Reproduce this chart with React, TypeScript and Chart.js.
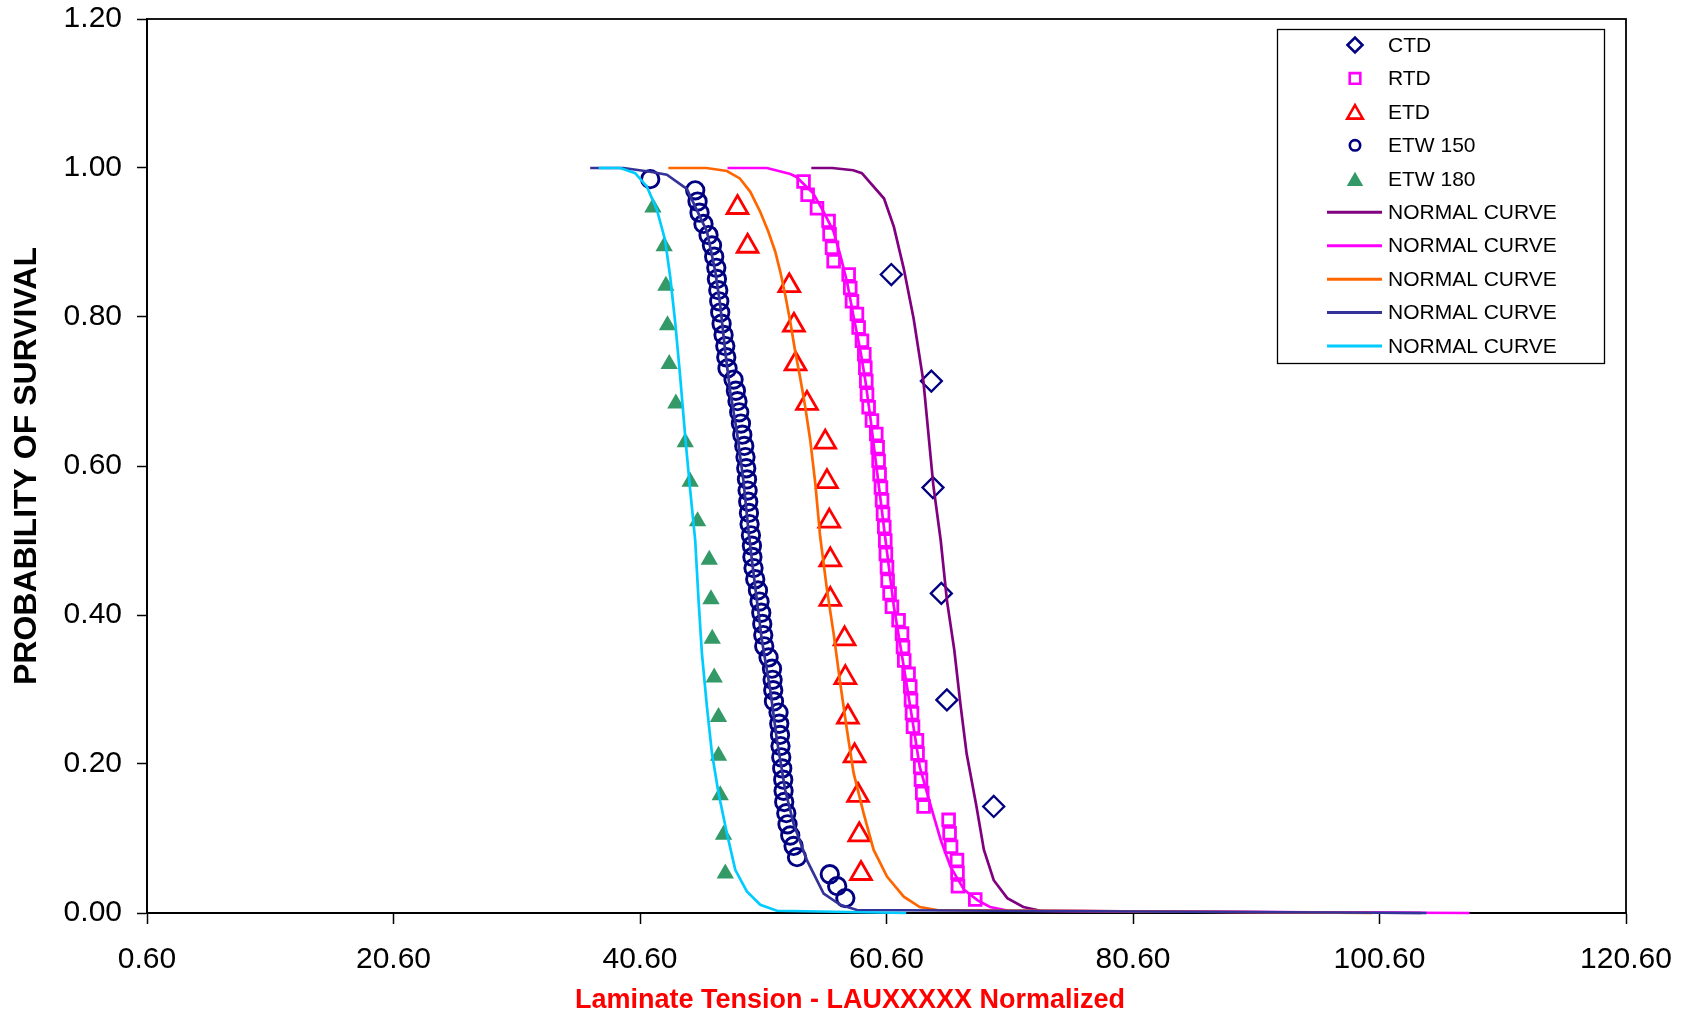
import React, { useEffect, useRef } from 'react';
import { Chart, registerables } from 'chart.js';

Chart.register(...registerables);

const FONT = '"Liberation Sans", Arial, Helvetica, sans-serif';

// ---------- axis ticks ----------
const xTickValues = [0.6, 20.6, 40.6, 60.6, 80.6, 100.6, 120.6];
const yTickValues = [0, 0.2, 0.4, 0.6, 0.8, 1.0, 1.2];

const xTitle = 'Laminate Tension - LAUXXXXX Normalized';
const yTitle = 'PROBABILITY OF SURVIVAL';

// ---------- test data (markers) ----------
const ctdX = [60.99, 64.24, 64.37, 65.05, 65.5, 69.3];
const ctdY = [0.857, 0.714, 0.571, 0.429, 0.286, 0.143];

const rtdX = [53.87, 54.2, 54.96, 55.9, 55.98, 56.18, 56.31, 57.53, 57.66, 57.8, 58.2, 58.34, 58.61, 58.8, 58.88, 58.96, 59.02, 59.15, 59.42, 59.77, 59.88, 59.96, 60.04, 60.15, 60.24, 60.32, 60.42, 60.5, 60.55, 60.64, 60.69, 60.85, 61.04, 61.58, 61.86, 61.94, 62.04, 62.39, 62.53, 62.59, 62.67, 62.75, 63.07, 63.12, 63.34, 63.4, 63.5, 63.61, 65.64, 65.72, 65.84, 66.32, 66.36, 66.4, 67.8];
const rtdY = [0.982, 0.964, 0.946, 0.929, 0.911, 0.893, 0.875, 0.857, 0.839, 0.821, 0.804, 0.786, 0.768, 0.75, 0.732, 0.714, 0.696, 0.679, 0.661, 0.643, 0.625, 0.607, 0.589, 0.571, 0.554, 0.536, 0.518, 0.5, 0.482, 0.464, 0.446, 0.429, 0.411, 0.393, 0.375, 0.357, 0.339, 0.321, 0.304, 0.286, 0.268, 0.25, 0.232, 0.214, 0.196, 0.179, 0.161, 0.143, 0.125, 0.107, 0.089, 0.071, 0.054, 0.036, 0.018];

const etdX = [48.51, 49.33, 52.71, 53.09, 53.22, 54.15, 55.63, 55.77, 55.96, 56.04, 56.04, 57.2, 57.26, 57.47, 58.01, 58.29, 58.39, 58.53];
const etdY = [0.947, 0.895, 0.842, 0.789, 0.737, 0.684, 0.632, 0.579, 0.526, 0.474, 0.421, 0.368, 0.316, 0.263, 0.211, 0.158, 0.105, 0.053];

const etw150X = [41.43, 45.08, 45.27, 45.43, 45.75, 46.16, 46.44, 46.62, 46.79, 46.84, 46.95, 47.03, 47.11, 47.22, 47.38, 47.52, 47.6, 47.7, 48.19, 48.38, 48.51, 48.65, 48.79, 48.9, 49.06, 49.16, 49.22, 49.28, 49.33, 49.38, 49.44, 49.49, 49.6, 49.68, 49.72, 49.81, 49.95, 50.17, 50.3, 50.44, 50.52, 50.6, 50.68, 51.03, 51.31, 51.36, 51.41, 51.47, 51.84, 51.9, 51.96, 52.0, 52.06, 52.14, 52.22, 52.25, 52.3, 52.47, 52.57, 52.79, 53.06, 53.34, 56.0, 56.6, 57.26];
const etw150Y = [0.985, 0.97, 0.955, 0.94, 0.925, 0.91, 0.896, 0.881, 0.866, 0.851, 0.836, 0.821, 0.806, 0.791, 0.776, 0.761, 0.746, 0.731, 0.716, 0.701, 0.687, 0.672, 0.657, 0.642, 0.627, 0.612, 0.597, 0.582, 0.567, 0.552, 0.537, 0.522, 0.507, 0.493, 0.478, 0.463, 0.448, 0.433, 0.418, 0.403, 0.388, 0.373, 0.358, 0.343, 0.328, 0.313, 0.299, 0.284, 0.269, 0.254, 0.239, 0.224, 0.209, 0.194, 0.179, 0.164, 0.149, 0.134, 0.119, 0.104, 0.09, 0.075, 0.052, 0.036, 0.02];

const etw180X = [41.65, 42.56, 42.7, 42.83, 42.97, 43.51, 44.27, 44.67, 45.27, 46.22, 46.36, 46.46, 46.62, 46.97, 46.97, 47.11, 47.38, 47.52];
const etw180Y = [0.947, 0.895, 0.842, 0.789, 0.737, 0.684, 0.632, 0.579, 0.526, 0.474, 0.421, 0.368, 0.316, 0.263, 0.211, 0.158, 0.105, 0.053];

// ---------- normal curves ----------
const ctdCurveX = [54.5, 56.2, 57.9, 58.6, 60.4, 61.2, 62.0, 62.8, 63.6, 64.4, 65.0, 65.5, 66.1, 66.6, 67.1, 67.9, 68.5, 69.3, 70.4, 71.7, 73.1, 104.0];
const ctdCurveY = [1.0, 1.0, 0.997, 0.993, 0.959, 0.921, 0.865, 0.798, 0.713, 0.574, 0.5, 0.42, 0.353, 0.28, 0.214, 0.143, 0.085, 0.044, 0.02, 0.008, 0.003, 0.0];

const rtdCurveX = [47.7, 50.9, 52.8, 53.3, 54.65, 55.5, 56.3, 56.85, 57.4, 57.9, 58.5, 58.9, 59.3, 59.7, 60.1, 60.5, 61.2, 62.0, 62.7, 63.3, 64.2, 65.0, 65.8, 66.9, 68.0, 69.0, 70.5, 107.9];
const rtdCurveY = [1.0, 1.0, 0.992, 0.988, 0.966, 0.941, 0.915, 0.883, 0.847, 0.803, 0.753, 0.713, 0.664, 0.61, 0.557, 0.503, 0.411, 0.331, 0.259, 0.196, 0.143, 0.098, 0.062, 0.031, 0.017, 0.008, 0.003, 0.0];

const etdCurveX = [42.9, 46.0, 47.65, 48.7, 49.55, 50.36, 51.0, 51.57, 51.98, 52.38, 52.79, 53.2, 53.6, 54.0, 54.41, 54.82, 55.22, 55.77, 56.31, 56.85, 57.39, 57.93, 58.74, 59.55, 60.64, 62.0, 63.3, 64.7, 100.0];
const etdCurveY = [1.0, 1.0, 0.996, 0.986, 0.968, 0.941, 0.915, 0.888, 0.861, 0.83, 0.794, 0.753, 0.718, 0.68, 0.635, 0.577, 0.505, 0.434, 0.375, 0.308, 0.246, 0.188, 0.134, 0.085, 0.049, 0.022, 0.008, 0.004, 0.0];

const etw150CurveX = [36.56, 39.26, 41.43, 42.78, 44.4, 46.03, 46.71, 47.11, 47.52, 47.92, 48.46, 49.0, 49.41, 49.81, 50.49, 51.17, 51.71, 52.38, 53.06, 54.14, 55.5, 56.85, 58.2, 104.4];
const etw150CurveY = [1.0, 1.0, 0.995, 0.991, 0.972, 0.915, 0.861, 0.816, 0.753, 0.7, 0.646, 0.579, 0.512, 0.456, 0.366, 0.299, 0.232, 0.165, 0.12, 0.071, 0.026, 0.011, 0.004, 0.0];

const etw180CurveX = [37.24, 39.0, 40.21, 41.16, 41.97, 42.64, 43.05, 43.46, 43.86, 44.27, 44.67, 45.08, 45.35, 45.62, 46.03, 46.44, 46.97, 47.65, 48.33, 49.27, 50.36, 51.71, 62.2];
const etw180CurveY = [1.0, 1.0, 0.993, 0.975, 0.944, 0.903, 0.854, 0.792, 0.72, 0.639, 0.568, 0.5, 0.42, 0.349, 0.277, 0.214, 0.161, 0.107, 0.058, 0.029, 0.011, 0.003, 0.0];

const markerLabels = ['CTD', 'RTD', 'ETD', 'ETW 150', 'ETW 180'];
const curveLabel = 'NORMAL CURVE';

const pts = (xs: number[], ys: number[]) => xs.map((x, i) => ({ x, y: ys[i] }));

// legend marker radii (legend markers are smaller than plotted ones)
const legendRadius: Record<string, number> = { CTD: 7.5, RTD: 7.5, ETD: 9, 'ETW 150': 5.2, 'ETW 180': 9.5 };

function drawMarker(ctx: CanvasRenderingContext2D, style: string, x: number, y: number, r: number) {
  ctx.beginPath();
  if (style === 'rectRot') {
    ctx.moveTo(x - r, y);
    ctx.lineTo(x, y - r);
    ctx.lineTo(x + r, y);
    ctx.lineTo(x, y + r);
    ctx.closePath();
  } else if (style === 'rect') {
    const s = r * Math.SQRT1_2;
    ctx.rect(x - s, y - s, 2 * s, 2 * s);
  } else if (style === 'triangle') {
    ctx.moveTo(x, y - r);
    ctx.lineTo(x + r * Math.sin((2 * Math.PI) / 3), y + r * 0.5);
    ctx.lineTo(x - r * Math.sin((2 * Math.PI) / 3), y + r * 0.5);
    ctx.closePath();
  } else {
    ctx.arc(x, y, r, 0, Math.PI * 2);
  }
}

const boxLegend = {
  id: 'boxLegend',
  afterDraw(chart: any) {
    const ctx: CanvasRenderingContext2D = chart.ctx;
    const L = 1277.5, T = 29.5, W = 327, H = 334;
    ctx.save();
    ctx.fillStyle = '#ffffff';
    ctx.fillRect(L, T, W, H);
    ctx.strokeStyle = '#000000';
    ctx.lineWidth = 1.3;
    ctx.strokeRect(L, T, W, H);
    ctx.font = `21px ${FONT}`;
    ctx.textBaseline = 'middle';
    ctx.textAlign = 'left';
    chart.data.datasets.forEach((ds: any, i: number) => {
      const cy = 45 + i * 33.45;
      const cx = 1355;
      if (ds.showLine) {
        ctx.strokeStyle = ds.borderColor;
        ctx.lineWidth = 3;
        ctx.beginPath();
        ctx.moveTo(1327, cy);
        ctx.lineTo(1382, cy);
        ctx.stroke();
      } else {
        const r = legendRadius[ds.label] || 6;
        const filled = ds.pointBackgroundColor && ds.pointBackgroundColor !== 'transparent';
        drawMarker(ctx, ds.pointStyle, cx, ds.pointStyle === 'triangle' ? cy + r * 0.25 : cy, r);
        if (filled) {
          ctx.fillStyle = ds.pointBackgroundColor;
          ctx.fill();
        } else {
          ctx.strokeStyle = ds.pointBorderColor;
          ctx.lineWidth = 2.6;
          ctx.stroke();
        }
      }
      ctx.fillStyle = '#000000';
      ctx.fillText(ds.label, 1388, cy + 1);
    });
    ctx.restore();
  },
};

const frame = {
  id: 'frame',
  beforeDatasetsDraw(chart: any) {
    const { ctx, chartArea } = chart;
    ctx.save();
    ctx.strokeStyle = '#000000';
    ctx.lineWidth = 1.8;
    ctx.strokeRect(chartArea.left, chartArea.top, chartArea.right - chartArea.left, chartArea.bottom - chartArea.top);
    ctx.restore();
  },
};

export default function App() {
  const ref = useRef<HTMLCanvasElement | null>(null);

  useEffect(() => {
    if (!ref.current) return;
    const markerDs = (label: string, xs: number[], ys: number[], style: string, color: string, radius: number, bw: number, filled: boolean, order: number) => ({
      label,
      data: pts(xs, ys),
      showLine: false,
      pointStyle: style,
      pointRadius: radius,
      pointBorderWidth: filled ? 0 : bw,
      pointBorderColor: color,
      pointBackgroundColor: filled ? color : 'transparent',
      borderColor: color,
      backgroundColor: filled ? color : 'transparent',
      clip: false,
      order,
    });
    const curveDs = (xs: number[], ys: number[], color: string, order: number) => ({
      label: curveLabel,
      data: pts(xs, ys),
      showLine: true,
      borderColor: color,
      backgroundColor: color,
      borderWidth: 2.7,
      pointRadius: 0,
      tension: 0,
      fill: false,
      clip: false,
      order,
    });

    const chart = new Chart(ref.current, {
      type: 'scatter',
      data: {
        datasets: [
          markerDs(markerLabels[0], ctdX, ctdY, 'rectRot', '#000080', 10.5, 2.3, false, 10),
          markerDs(markerLabels[1], rtdX, rtdY, 'rect', '#FF00FF', 8.3, 2.8, false, 9),
          markerDs(markerLabels[2], etdX, etdY, 'triangle', '#FF0000', 12, 2.8, false, 8),
          markerDs(markerLabels[3], etw150X, etw150Y, 'circle', '#000080', 8.7, 2.9, false, 7),
          markerDs(markerLabels[4], etw180X, etw180Y, 'triangle', '#339966', 10, 0, true, 6),
          curveDs(ctdCurveX, ctdCurveY, '#800080', 5),
          curveDs(rtdCurveX, rtdCurveY, '#FF00FF', 4),
          curveDs(etdCurveX, etdCurveY, '#FF6600', 3),
          curveDs(etw150CurveX, etw150CurveY, '#333399', 2),
          curveDs(etw180CurveX, etw180CurveY, '#00CCFF', 1),
        ] as any,
      },
      options: {
        animation: false,
        responsive: false,
        events: [],
        layout: { padding: { left: 8, top: 0, right: 0, bottom: 0 } },
        plugins: {
          legend: { display: false },
          tooltip: { enabled: false },
          title: {
            display: true,
            position: 'bottom',
            text: xTitle,
            color: '#FF0000',
            font: { family: FONT, size: 27, weight: 'bold', lineHeight: 1.2 },
            padding: { top: 0, bottom: 1 },
          },
        },
        scales: {
          x: {
            type: 'linear',
            min: 0.6,
            max: 120.6,
            afterBuildTicks: (s: any) => {
              s.ticks = xTickValues.map((v) => ({ value: v }));
            },
            afterFit: (s: any) => {
              s.height = 105 - 33.4;
              s.paddingLeft = 0;
              s.paddingRight = 66;
            },
            ticks: {
              autoSkip: false,
              maxRotation: 0,
              padding: 18,
              color: '#000000',
              font: { family: FONT, size: 30 },
              callback: (v: any) => Number(v).toFixed(2),
            },
            grid: { drawOnChartArea: false, drawTicks: true, tickLength: 11, color: '#000000', tickColor: '#000000', tickWidth: 1.5 },
            border: { display: true, color: '#000000', width: 2 },
          },
          y: {
            type: 'linear',
            min: 0,
            max: 1.2,
            afterBuildTicks: (s: any) => {
              s.ticks = yTickValues.map((v) => ({ value: v }));
            },
            afterFit: (s: any) => {
              s.width = 139;
              s.paddingTop = 19;
              s.paddingBottom = 0;
            },
            ticks: {
              autoSkip: false,
              padding: 15,
              color: '#000000',
              font: { family: FONT, size: 30 },
              callback: (v: any) => Number(v).toFixed(2),
            },
            grid: { drawOnChartArea: false, drawTicks: true, tickLength: 10, color: '#000000', tickColor: '#000000', tickWidth: 1.5 },
            border: { display: true, color: '#000000', width: 2 },
            title: {
              display: true,
              text: yTitle,
              color: '#000000',
              font: { family: FONT, size: 32, weight: 'bold', lineHeight: 1.2 },
              padding: { top: 0, bottom: 0 },
            },
          },
        },
      } as any,
      plugins: [frame, boxLegend],
    });
    return () => chart.destroy();
  }, []);

  return (
    <div style={{ position: 'fixed', left: 0, top: 0, width: 1692, height: 1018, background: '#ffffff' }}>
      <canvas ref={ref} width={1692} height={1018} style={{ width: 1692, height: 1018, display: 'block' }} />
    </div>
  );
}
